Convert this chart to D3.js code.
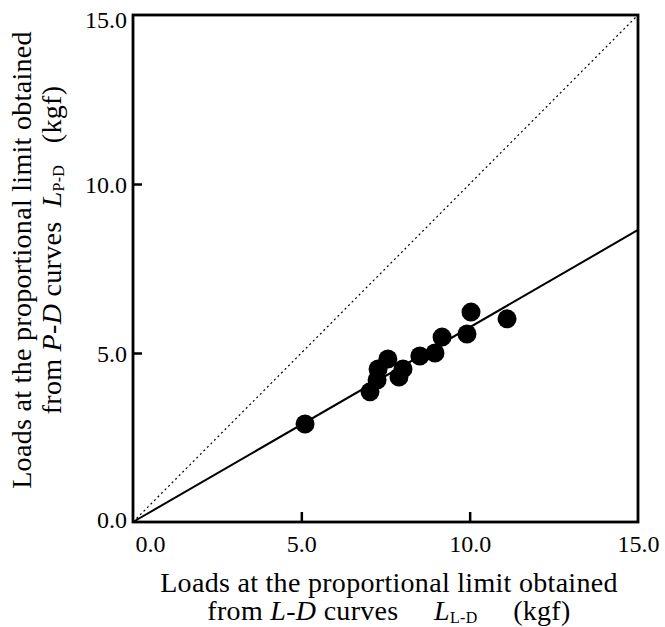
<!DOCTYPE html>
<html>
<head>
<meta charset="utf-8">
<script src="https://cdn.jsdelivr.net/npm/d3@7"></script>
<style>
  body { margin: 0; background: #fff; }
  svg text { font-family: "Liberation Serif", "Times New Roman", Times, "DejaVu Serif", serif !important; fill: #000; }
</style>
</head>
<body>
<script>
const W = 665, H = 627;
const FONT = "'Liberation Serif', 'Times New Roman', Times, 'DejaVu Serif', serif";

// values (kgf)
const lLD = [5.11, 7.04, 7.25, 7.28, 7.57, 7.90, 8.02, 8.52, 8.97, 9.18, 9.92, 10.04, 11.11];
const lPD = [2.90, 3.85, 4.20, 4.53, 4.82, 4.29, 4.53, 4.91, 5.00, 5.47, 5.56, 6.21, 6.01];
const tickValues = [0, 5, 10, 15];
const fitSlope = 0.576;

const margin = {left: 133, right: 27, top: 15, bottom: 105};

const svg = d3.select("body").append("svg")
    .attr("width", W).attr("height", H)
    .attr("font-family", FONT);

const x = d3.scaleLinear().domain([0, 15]).range([margin.left, W - margin.right]);
const y = d3.scaleLinear().domain([0, 15]).range([H - margin.bottom, margin.top]);

// dotted 1:1 line
svg.append("line")
    .attr("x1", x(0)).attr("y1", y(0)).attr("x2", x(15)).attr("y2", y(15))
    .attr("stroke", "#000").attr("stroke-width", 1.2)
    .attr("stroke-dasharray", "2,3");

// regression line through origin
svg.append("line")
    .attr("x1", x(0)).attr("y1", y(0)).attr("x2", x(15)).attr("y2", y(15 * fitSlope))
    .attr("stroke", "#000").attr("stroke-width", 2);

// points
svg.selectAll("circle.pt")
    .data(lLD.map((v, i) => [v, lPD[i]]))
    .enter().append("circle")
    .attr("class", "pt")
    .attr("cx", d => x(d[0])).attr("cy", d => y(d[1]))
    .attr("r", 9.5).attr("fill", "#000");

// axes (ticks pointing inward)
const fmt = d3.format(".1f");
const xAxis = svg.append("g")
    .attr("transform", `translate(0,${y(0)})`)
    .call(d3.axisBottom(x).tickValues(tickValues).tickSize(-10).tickFormat(fmt).tickPadding(13));
const yAxis = svg.append("g")
    .attr("transform", `translate(${x(0)},0)`)
    .call(d3.axisLeft(y).tickValues(tickValues).tickSize(-9).tickFormat(fmt).tickPadding(6));

[xAxis, yAxis].forEach(g => {
  g.attr("font-family", FONT);
  g.select(".domain").remove();
  g.selectAll(".tick line").attr("stroke-width", 2.5);
  g.selectAll(".tick text").attr("font-size", 24);
});
xAxis.selectAll(".tick").filter(d => d === 0 || d === 15).select("line").remove();
yAxis.selectAll(".tick").filter(d => d === 0 || d === 15).select("line").remove();
xAxis.selectAll(".tick").filter(d => d === 0).select("text").attr("dx", 17);
yAxis.selectAll(".tick text").attr("dy", "0.36em");
yAxis.selectAll(".tick").filter(d => d === 0).select("text").attr("dy", "0.22em");
yAxis.selectAll(".tick").filter(d => d === 15).select("text").attr("dy", "0.5em");

// frame
svg.append("rect")
    .attr("x", x(0)).attr("y", y(15))
    .attr("width", x(15) - x(0)).attr("height", y(0) - y(15))
    .attr("fill", "none").attr("stroke", "#000").attr("stroke-width", 2.8);

// x axis title
svg.append("text")
    .attr("x", 389).attr("y", 592).attr("text-anchor", "middle")
    .attr("font-size", 28).attr("letter-spacing", 0.3)
    .text("Loads at the proportional limit obtained");
const xt2 = svg.append("text")
    .attr("x", 389).attr("y", 620).attr("text-anchor", "middle")
    .attr("font-size", 28).attr("letter-spacing", 0.3);
xt2.append("tspan").text("from ");
xt2.append("tspan").attr("font-style", "italic").text("L");
xt2.append("tspan").text("-");
xt2.append("tspan").attr("font-style", "italic").text("D");
xt2.append("tspan").text(" curves\u2003 ");
xt2.append("tspan").attr("font-style", "italic").text("L");
xt2.append("tspan").attr("font-size", 16).attr("dy", 3).text("L-D");
xt2.append("tspan").attr("dy", -3).text("\u2003 (kgf)");

// y axis title
const yg = svg.append("g").attr("transform", "rotate(-90)");
yg.append("text")
    .attr("x", -260).attr("y", 31).attr("text-anchor", "middle")
    .attr("font-size", 28).attr("letter-spacing", 0.3)
    .text("Loads at the proportional limit obtained");
const yt2 = yg.append("text")
    .attr("x", -250).attr("y", 61).attr("text-anchor", "middle")
    .attr("font-size", 28).attr("letter-spacing", 0.3);
yt2.append("tspan").text("from ");
yt2.append("tspan").attr("font-style", "italic").text("P");
yt2.append("tspan").text("-");
yt2.append("tspan").attr("font-style", "italic").text("D");
yt2.append("tspan").text(" curves\u2002");
yt2.append("tspan").attr("font-style", "italic").text("L");
yt2.append("tspan").attr("font-size", 16).attr("dy", 3).text("P-D");
yt2.append("tspan").attr("dy", -3).text("\u2002 (kgf)");
</script>
</body>
</html>
